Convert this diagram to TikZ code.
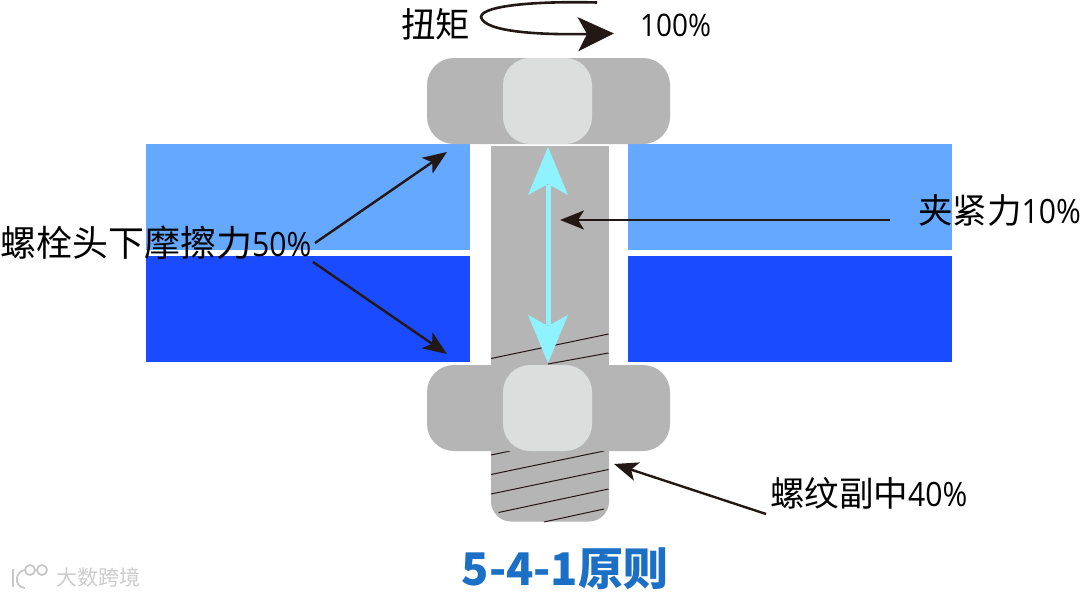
\documentclass[tikz,border=0pt]{standalone}
\usepackage{fontspec}
\setmainfont{Noto Sans CJK SC}
\newfontfamily\latinlbl[FakeStretch=0.9]{Open Sans}
\usetikzlibrary{arrows.meta,calc}
\definecolor{plateL}{HTML}{64A8FF}
\definecolor{plateD}{HTML}{1A4BFF}
\definecolor{boltgray}{HTML}{B5B5B5}
\definecolor{facegray}{HTML}{DCDEDE}
\definecolor{cyanarrow}{HTML}{8FF2FF}
\definecolor{inkdark}{HTML}{231815}
\definecolor{titleblue}{HTML}{1B6FC4}
\newcommand{\pctfont}{\latinlbl\fontsize{33.5}{33.5}\selectfont}
\tikzset{
  x=1pt,y=-1pt,
  lbl/.style={inner sep=0pt,text=black,font=\fontsize{34.5}{34.5}\selectfont,anchor=west},
  pct/.style={font=\latinlbl\fontsize{31}{31}\selectfont},
  leader/.style={draw=inkdark,line width=2.4pt,-{Stealth[length=24pt,width=19pt,inset=6pt]}},
  thread/.style={draw=inkdark,line width=1pt},
  plate/.style={draw=none},
  boltfill/.style={fill=boltgray,draw=none},
  facefill/.style={fill=facegray,draw=none},
  wm/.style={inner sep=0pt,font=\fontsize{21}{21}\selectfont,anchor=west},
}
\begin{document}
\begin{tikzpicture}
\useasboundingbox (0,0) rectangle (1080,597);
\fill[white] (0,0) rectangle (1080,597);
% plates
\fill[plateL,plate] (146,144) rectangle (470,250);
\fill[plateD,plate] (146,255.5) rectangle (470,361.5);
\fill[plateL,plate] (628,144) rectangle (952,250);
\fill[plateD,plate] (628,255.5) rectangle (952,361.5);
% shank
\fill[boltfill] (491,146) rectangle (609,400);
\fill[boltfill,rounded corners=20pt] (491,390) -- (609,390) -- (609,521.5) -- (491,521.5) -- cycle;
% threads
\coordinate (t1a) at (491,358.5); \coordinate (t1b) at (608.5,334);
\coordinate (t2a) at (548,364);   \coordinate (t2b) at (608.5,353);
\coordinate (t3a) at (491,455);   \coordinate (t3b) at (510,451);
\coordinate (t4a) at (491,474.5); \coordinate (t4b) at (604,451);
\coordinate (t5a) at (491,494);   \coordinate (t5b) at (608.5,469.5);
\coordinate (t6a) at (498.5,512.5); \coordinate (t6b) at (608.5,489);
\coordinate (t7a) at (544,522);   \coordinate (t7b) at (604,509);
\foreach \n in {1,...,7} \draw[thread] (t\n a) -- (t\n b);
% head and nut
\fill[boltfill,rounded corners=27pt] (427,58) rectangle (670,144);
\fill[facefill,rounded corners=27pt] (503,58) rectangle (592,144);
\fill[boltfill,rounded corners=27pt] (427,365) rectangle (670,451);
\fill[facefill,rounded corners=27pt] (503,365) rectangle (592,451);
% clamp double arrow
\fill[cyanarrow] (545.5,185) rectangle (550.5,325);
\fill[cyanarrow] (548,147) -- (568,195) -- (548,184) -- (528,195) -- cycle;
\fill[cyanarrow] (548,363) -- (568,315) -- (548,326) -- (528,315) -- cycle;
% labels
\node[lbl] (torque) at (401,24) {扭矩};
\node[pct,anchor=west,inner sep=0pt] (pct100) at (640,25) {100\%};
\node[lbl,font=\fontsize{36}{36}\selectfont] (head) at (0,243) {螺栓头下摩擦力\makebox[0pt][l]{\pctfont 50\%}};
\node[lbl] (clamp) at (918,210) {夹紧力\makebox[0pt][l]{\pctfont 10\%}};
\node[lbl] (thr) at (770,493) {螺纹副中\makebox[0pt][l]{\pctfont 40\%}};
\node[inner sep=0pt,text=titleblue,font=\bfseries\fontsize{45}{45}\selectfont] (title) at (565,569) {5-4-1原则};
% leaders
\coordinate (hs1) at (315,243); \coordinate (he1) at (447,152);
\coordinate (hs2) at (313,262); \coordinate (he2) at (447,354);
\coordinate (cs) at (890,220);  \coordinate (ce) at (560,220);
\coordinate (ts) at (766,514);  \coordinate (te) at (614,464);
\draw[leader] (hs1) -- (he1);
\draw[leader] (hs2) -- (he2);
\draw[leader] (cs) -- (ce);
\draw[leader] (ts) -- (te);
% torque arrow
\coordinate (qs) at (597,2.5); \coordinate (qe) at (614,33.5);
\draw[inkdark,line width=2.6pt,-{Stealth[length=36pt,width=34pt,inset=9pt]}]
  (qs) .. controls (540,1) and (482,5) .. (481,17)
       .. controls (484,32) and (540,35) .. (qe);
% watermark
\begin{scope}[draw=black!22,line width=1.8pt]
  \draw (13,569) -- (13,587);
  \draw (26,570) .. controls (15,570) and (13,587) .. (25,588);
  \draw (30,570) circle[radius=5pt];
  \draw (42,570) circle[radius=5pt];
\end{scope}
\node[wm,text=black!20] (wmark) at (56,577) {大数跨境};
\end{tikzpicture}
\end{document}
